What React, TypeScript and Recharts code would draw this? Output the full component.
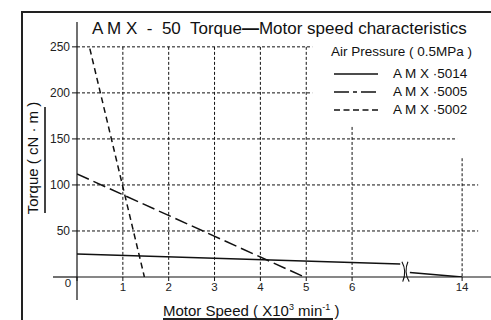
import React from 'react';
import { LineChart, Line, XAxis, YAxis, ReferenceLine, ReferenceDot, Legend } from 'recharts';

// ---- data (speed in x10^3 min^-1, torque in cN·m) ----
const TITLE_LEFT = 'A M X  -  50  Torque';
const TITLE_DASH = '\u2014';
const TITLE_RIGHT = 'Motor speed characteristics';
const LEGEND_TITLE = 'Air Pressure ( 0.5MPa )';
const Y_LABEL = 'Torque ( cN · m )';

const seriesNames = ['A M X ·5014', 'A M X ·5005', 'A M X ·5002'];

const speed5014 = [0, 7.05, 9, 11.1, 14];
const torque5014: (number | null)[] = [25, 14, null, 4.8, 0];
const speed5005 = [0, 4.96];
const torque5005 = [112, 0];
const speed5002 = [0.28, 1.47];
const torque5002 = [248, 0];

const xTickSpeeds = [0, 1, 2, 3, 4, 5, 6, 14];
const yTicks = [50, 100, 150, 200, 250];

// broken x axis: speeds above the break are compressed
const BREAK_SPEED = 7.1;
const BREAK_END_SPEED = 14;
const BREAK_END_POS = 8.4;
const BREAK_SLOPE = 0.393;
const toAxis = (s: number) =>
  s <= BREAK_SPEED ? s : BREAK_END_POS - (BREAK_END_SPEED - s) * BREAK_SLOPE;

const build = (sp: number[], tq: (number | null)[]) =>
  sp.map((s, i) => ({ s: toAxis(s), t: tq[i] }));

const d5014 = build(speed5014, torque5014);
const d5005 = build(speed5005, torque5005);
const d5002 = build(speed5002, torque5002);

const styles = [
  { dash: undefined as string | undefined, legendDash: undefined as string | undefined },
  { dash: '13 5', legendDash: '15 4 4 4' },
  { dash: '6 4', legendDash: '6 3.5' },
];

// grid layout (decoration)
const hGrid = [
  { y: 250, to: 5.13 },
  { y: 200, to: 5.13 },
  { y: 150, to: 8.29 },
  { y: 100, to: 8.75 },
  { y: 50, to: 8.75 },
];
const vGrid = [
  { s: 1, from: 250 },
  { s: 2, from: 250 },
  { s: 3, from: 250 },
  { s: 4, from: 250 },
  { s: 5, from: 250 },
  { s: 6, from: 163 },
  { s: 14, from: 129 },
];

const FONT = '"Liberation Sans", Arial, sans-serif';
const INK = '#111';

const XTick = (props: any) => {
  const { x, y, payload } = props;
  const label = xTickSpeeds.find((s) => Math.abs(toAxis(s) - payload.value) < 1e-6);
  const isZero = label === 0;
  return (
    <text
      x={isZero ? x - 9 : x}
      y={isZero ? y - 4 : y}
      dy="0.71em"
      textAnchor="middle"
      fontSize={11.5}
      fontFamily={FONT}
      fill="#222"
    >
      {label}
    </text>
  );
};

const BreakMark = (props: any) => {
  const { cx, cy } = props;
  if (cx == null || cy == null) return null;
  const h = 10;
  return (
    <g fill="none" stroke={INK} strokeWidth={1.1}>
      <path d={`M ${cx - 3.8} ${cy - h} C ${cx - 0.5} ${cy - 4}, ${cx - 0.5} ${cy + 4}, ${cx - 3} ${cy + h}`} />
      <path d={`M ${cx + 2.2} ${cy - h} C ${cx - 0.5} ${cy - 4}, ${cx - 0.5} ${cy + 4}, ${cx + 3.5} ${cy + h}`} />
    </g>
  );
};

const renderLegend = () => (
  <div style={{ position: 'relative', width: 160, height: 80, fontFamily: FONT, color: INK }}>
    <div style={{ position: 'absolute', left: 3, top: 0, fontSize: 13.5, whiteSpace: 'pre', lineHeight: '16px' }}>
      {LEGEND_TITLE}
    </div>
    {seriesNames.map((n, i) => (
      <div key={n} style={{ position: 'absolute', left: 0, top: 22 + i * 18, height: 16, width: 160 }}>
        <svg width={46} height={16} style={{ position: 'absolute', left: 6, top: 0 }}>
          <line x1={0} y1={8} x2={44} y2={8} stroke={INK} strokeWidth={1.5} strokeDasharray={styles[i].legendDash} />
        </svg>
        <div style={{ position: 'absolute', left: 65, top: 0, fontSize: 13.5, lineHeight: '16px', whiteSpace: 'pre' }}>{n}</div>
      </div>
    ))}
  </div>
);

export default function App() {
  const seriesData = [d5014, d5005, d5002];
  return (
    <div style={{ position: 'absolute', left: 0, top: 0, width: 491, height: 320, overflow: 'hidden', background: '#fff' }}>
      <div
        style={{
          position: 'absolute',
          left: 21,
          top: 11,
          width: 520,
          height: 360,
          borderLeft: '2px solid #222',
          borderTop: '2px solid #222',
        }}
      />
      <div
        style={{
          position: 'absolute',
          left: 92,
          top: 19,
          fontFamily: FONT,
          fontSize: 17,
          whiteSpace: 'pre',
          color: INK,
          lineHeight: '20px',
        }}
      >
        {TITLE_LEFT}
        <span style={{ fontWeight: 'bold' }}>{TITLE_DASH}</span>
        {TITLE_RIGHT}
      </div>
      <div
        style={{
          position: 'absolute',
          left: 33,
          top: 158,
          transform: 'translate(-50%, -50%) rotate(-90deg)',
          fontFamily: FONT,
          fontSize: 15,
          whiteSpace: 'pre',
          color: INK,
          lineHeight: '18px',
        }}
      >
        {Y_LABEL}
      </div>
      <div style={{ position: 'absolute', left: 44, top: 107, width: 2, height: 106, background: '#444' }} />
      <div
        style={{
          position: 'absolute',
          left: 163,
          top: 298,
          fontFamily: FONT,
          fontSize: 15,
          whiteSpace: 'pre',
          color: INK,
          lineHeight: '18px',
        }}
      >
        Motor Speed ( X10<sup style={{ fontSize: 9, verticalAlign: 6 }}>3</sup> min<sup style={{ fontSize: 9, verticalAlign: 6 }}>-1</sup> )
      </div>
      <div style={{ position: 'absolute', left: 163, top: 318, width: 170, height: 2, background: '#222' }} />
      <div style={{ position: 'absolute', left: 0, top: 0 }}>
        <LineChart width={491} height={320} margin={{ top: 22, right: 0, bottom: 23, left: 0 }}>
          <XAxis
            type="number"
            dataKey="s"
            domain={[0, 9.03]}
            allowDataOverflow
            ticks={xTickSpeeds.map(toAxis)}
            tick={<XTick />}
            tickSize={4}
            tickMargin={2}
            height={20}
            axisLine={{ stroke: INK, strokeWidth: 1.2 }}
            tickLine={{ stroke: INK }}
          />
          <YAxis
            type="number"
            domain={[0, 277]}
            allowDataOverflow
            ticks={yTicks}
            width={77}
            tickSize={5}
            tickMargin={2}
            axisLine={{ stroke: INK, strokeWidth: 1.2 }}
            tickLine={{ stroke: INK }}
            tick={{ fontSize: 12, fontFamily: FONT, fill: '#222' }}
          />
          {hGrid.map((g) => (
            <ReferenceLine
              key={'h' + g.y}
              segment={[{ x: 0, y: g.y }, { x: g.to, y: g.y }]}
              stroke={INK}
              strokeWidth={1}
              strokeDasharray="3 2"
              ifOverflow="visible"
            />
          ))}
          {vGrid.map((g) => (
            <ReferenceLine
              key={'v' + g.s}
              segment={[{ x: toAxis(g.s), y: g.from }, { x: toAxis(g.s), y: 0 }]}
              stroke={INK}
              strokeWidth={1}
              strokeDasharray="3 2"
              ifOverflow="visible"
            />
          ))}
          <ReferenceLine segment={[{ x: -0.524, y: 0 }, { x: 0, y: 0 }]} stroke={INK} strokeWidth={1.2} ifOverflow="visible" />
          <ReferenceLine segment={[{ x: 0, y: 0 }, { x: 0, y: -25 }]} stroke={INK} strokeWidth={1.2} ifOverflow="visible" />
          {seriesData.map((d, i) => (
            <Line
              key={seriesNames[i]}
              name={seriesNames[i]}
              data={d}
              dataKey="t"
              type="linear"
              stroke={INK}
              strokeWidth={1.5}
              strokeDasharray={styles[i].dash}
              dot={false}
              activeDot={false}
              isAnimationActive={false}
            />
          ))}
          <ReferenceDot x={7.17} y={5.8} r={0} shape={<BreakMark />} ifOverflow="visible" />
          <Legend
            layout="horizontal"
            verticalAlign="middle"
            align="center"
            content={renderLegend}
            wrapperStyle={{ left: 328, top: 44, width: 160, height: 80 }}
          />
        </LineChart>
      </div>
    </div>
  );
}
